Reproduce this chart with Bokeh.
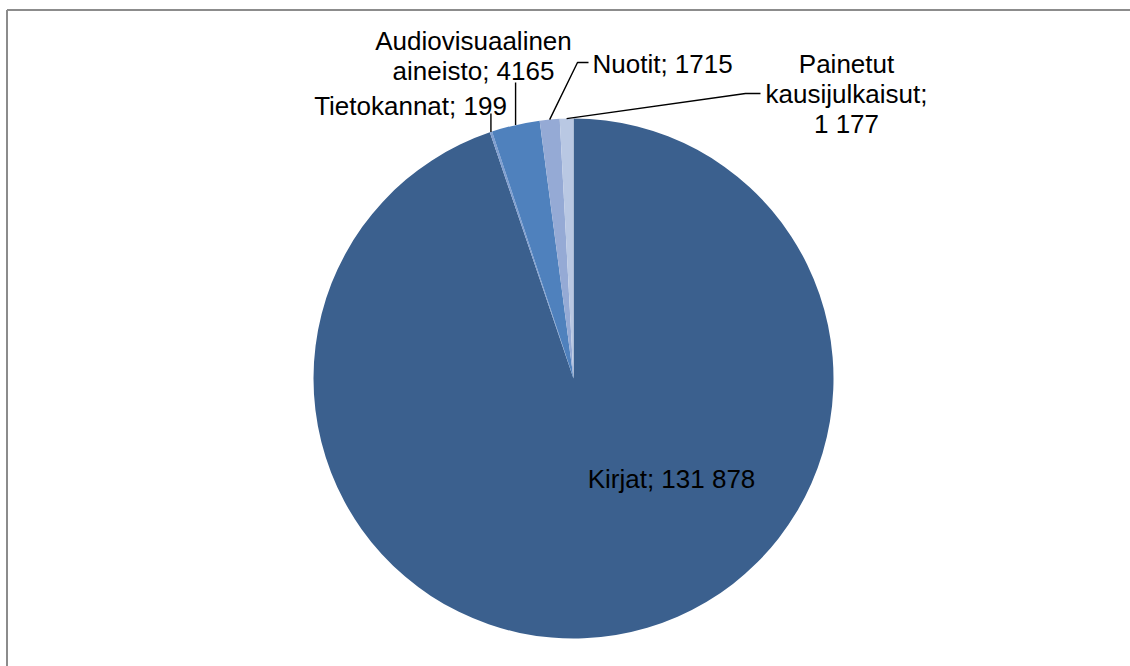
import numpy as np
from bokeh.plotting import figure
from bokeh.models import Range1d, ColumnDataSource
from bokeh.core.properties import value
from bokeh.embed import file_html
from bokeh.resources import INLINE

# ---- data ----
categories = ["Kirjat", "Tietokannat", "Audiovisuaalinen aineisto", "Nuotit", "Painetut kausijulkaisut"]
values = [131878, 199, 4165, 1715, 1177]
label_lines = [
    ["Kirjat; 131 878"],
    ["Tietokannat; 199"],
    ["Audiovisuaalinen", "aineisto; 4165"],
    ["Nuotit; 1715"],
    ["Painetut", "kausijulkaisut;", "1 177"],
]
colors = ["#3B608E", "#7F9ED0", "#4F81BD", "#95AAD5", "#B9C8E3"]

# ---- layout (page pixel coordinates; data y = -page y) ----
W, H = 1130, 666
CX, CY, R = 573, 378, 260
FONT = value("Liberation Sans")
FS = "26px"
LINE_H = 30

# label anchors: (x, first baseline y, align)
label_pos = [
    (671, 478, "center"),
    (410, 105, "center"),
    (473, 40, "center"),
    (592, 63, "left"),
    (846, 63, "center"),
]
# leader elbows (after the point on the slice edge), None = no leader
leader_elbows = [
    None,
    "vertical:113",
    "vertical:82",
    [(577, 62), (588, 62)],
    [(745, 93), (760, 93)],
]

p = figure(width=W, height=H, output_backend="svg", toolbar_location=None,
           x_range=Range1d(0, W), y_range=Range1d(-H, 0),
           x_axis_location=None, y_axis_location=None, min_border=0,
           background_fill_color="white", border_fill_color="white")
p.grid.visible = False
p.outline_line_color = None
p.outline_line_alpha = 0

vals = np.array(values, dtype=float)
frac = vals / vals.sum()
cum_after = np.cumsum(frac)
cum_before = cum_after - frac
start = np.pi / 2 - 2 * np.pi * cum_before
end = np.pi / 2 - 2 * np.pi * cum_after
mid = np.pi / 2 - 2 * np.pi * (cum_before + frac / 2)

src = ColumnDataSource(dict(cat=categories, val=values, start=start, end=end, color=colors))
p.wedge(x=CX, y=-CY, radius=R, start_angle="start", end_angle="end", direction="clock",
        fill_color="color", line_color=None, source=src)

# leader lines
xs, ys = [], []
for i, el in enumerate(leader_elbows):
    if el is None:
        continue
    ex = CX + R * np.cos(mid[i])
    ey = -CY + R * np.sin(mid[i])
    if isinstance(el, str):
        top = float(el.split(":")[1])
        xs.append([ex, ex])
        ys.append([ey, -top])
    else:
        xs.append([ex] + [pt[0] for pt in el])
        ys.append([ey] + [-pt[1] for pt in el])
p.multi_line(xs=xs, ys=ys, line_color="black", line_width=1.4)

# labels
tx, ty, tt, ta = [], [], [], []
for lines, (lx, ly, al) in zip(label_lines, label_pos):
    for k, ln in enumerate(lines):
        tx.append(lx)
        ty.append(-(ly + k * LINE_H))
        tt.append(ln)
        ta.append(al)
p.text(x=tx, y=ty, text=tt, text_align=ta, text_baseline="alphabetic",
       text_font=FONT, text_font_size=FS, text_color="black")

# chart-area frame (left and top edges visible in view)
p.segment(x0=[6.5, 6.5], y0=[-H, -9.5], x1=[6.5, W], y1=[-9.5, -9.5],
          line_color="#8C8C8C", line_width=2)
# keep the right edge of the canvas clean
p.segment(x0=[W - 1], y0=[-H], x1=[W - 1], y1=[-10.5], line_color="white", line_width=3)

open("out.html", "w").write(file_html(p, INLINE))
